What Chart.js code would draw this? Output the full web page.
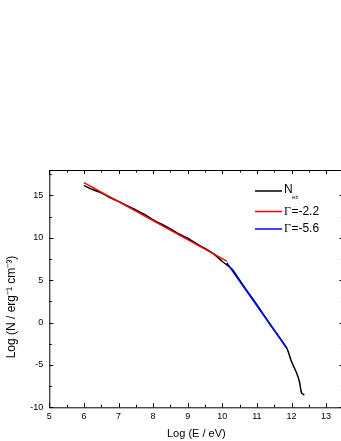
<!DOCTYPE html>
<html>
<head>
<meta charset="utf-8">
<script src="https://cdn.jsdelivr.net/npm/chart.js@4"></script>
<style>
html,body{margin:0;padding:0;background:#fff;overflow:hidden;}
#wrap{position:relative;width:345px;height:441px;}
</style>
</head>
<body>
<div id="wrap"><canvas id="c"></canvas></div>
<script>
// ---- data ----
const nE = [6.0,6.25,6.5,6.75,7.0,7.25,7.5,7.75,8.0,8.25,8.5,8.75,9.0,9.25,9.5,9.75,10.0,10.15,10.3,10.6,11.0,11.4,11.86,12.0,12.15,12.23,12.27,12.3,12.37];
const nN = [16.15,15.7,15.3,14.75,14.3,13.8,13.3,12.75,12.1,11.6,11.05,10.45,9.95,9.3,8.75,8.1,7.2,6.75,6.2,4.4,2.1,-0.3,-3.0,-4.6,-5.98,-6.98,-7.96,-8.35,-8.55];
const fit1E = [6.0,10.13];
const fit1N = [16.5,7.25];
const fit2E = [10.13,11.86];
const fit2N = [7.05,-3.0];
const seriesLabels = ['N','Γ=-2.2','Γ=-5.6'];
const xTitle = 'Log (E / eV)';
const yTitle = 'Log (N / erg⁻¹ cm⁻³)';
const xMajor = [5,6,7,8,9,10,11,12,13];
const yMajor = [-10,-5,0,5,10,15];
const xRange = [5,13.5];
const yRange = [-10,18];

const pts = (xs,ys)=>xs.map((v,i)=>({x:v,y:ys[i]}));

const frame = {
  id:'frame',
  afterDraw(chart){
    const {ctx, chartArea:{left,right,top,bottom}, scales:{x,y}} = chart;
    ctx.save();
    ctx.strokeStyle='#000'; ctx.lineWidth=1;
    ctx.strokeRect(left+0.5, top+0.5, right-left, bottom-top);
    ctx.beginPath();
    for(let v=xRange[0]; v<=xRange[1]+1e-9; v+=0.5){
      const px=Math.round(x.getPixelForValue(v))+0.5;
      const len = xMajor.includes(v)?4:2.5;
      ctx.moveTo(px,bottom); ctx.lineTo(px,bottom-len);
      ctx.moveTo(px,top); ctx.lineTo(px,top+len);
    }
    for(let v=yRange[0]; v<=yRange[1]+1e-9; v+=2.5){
      const py=Math.round(y.getPixelForValue(v))+0.5;
      const len = yMajor.includes(v)?4:2.5;
      ctx.moveTo(left,py); ctx.lineTo(left+len,py);
      ctx.moveTo(right,py); ctx.lineTo(right-len,py);
    }
    ctx.stroke();
    // legend
    const colors=['#000','#ff0000','#0000ff'];
    const ys=[191,211.5,229];
    ctx.lineWidth=1.5;
    ys.forEach((yy,i)=>{
      ctx.strokeStyle=colors[i];
      ctx.beginPath(); ctx.moveTo(255,yy); ctx.lineTo(282,yy); ctx.stroke();
    });
    ctx.fillStyle='#000';
    ctx.textBaseline='middle';
    ctx.textAlign='left';
    ctx.font='12px "Liberation Sans", Arial, sans-serif';
    ctx.fillText('N',284,190);
    ctx.font='6px "Liberation Sans", Arial, sans-serif';
    ctx.fillText('e±',292,197.5);
    for(let i=1;i<3;i++){
      const lab=seriesLabels[i];
      ctx.font='12px "Liberation Serif", serif';
      ctx.fillText(lab[0],284,ys[i]);
      const w=ctx.measureText(lab[0]).width;
      ctx.font='12px "Liberation Sans", Arial, sans-serif';
      ctx.fillText(lab.slice(1),284+w+0.5,ys[i]);
    }
    ctx.restore();
  }
};

new Chart(document.getElementById('c'),{
  type:'line',
  data:{datasets:[
    {label:seriesLabels[0],data:pts(nE,nN),borderColor:'#000',borderWidth:1.5,pointRadius:0,tension:0.2,order:2},
    {label:seriesLabels[1],data:pts(fit1E,fit1N),borderColor:'#ff0000',borderWidth:1.5,pointRadius:0,order:1},
    {label:seriesLabels[2],data:pts(fit2E,fit2N),borderColor:'#0000ff',borderWidth:1.5,pointRadius:0,order:0}
  ]},
  options:{
    responsive:true,maintainAspectRatio:false,animation:false,
    layout:{padding:{top:170,right:1.6,left:0,bottom:0}},
    plugins:{legend:{display:false},tooltip:{enabled:false}},
    scales:{
      x:{type:'linear',min:xRange[0],max:xRange[1],
        afterFit:s=>{s.height=33.7;},
        grid:{display:false,drawTicks:false},border:{display:false},
        ticks:{stepSize:1,includeBounds:false,padding:4,color:'#000',font:{family:'"Liberation Sans", Arial, sans-serif',size:9}},
        title:{display:true,text:xTitle,color:'#000',padding:{top:0.4,bottom:0},font:{family:'"Liberation Sans", Arial, sans-serif',size:11}}
      },
      y:{type:'linear',min:yRange[0],max:yRange[1],
        afterFit:s=>{s.width=49.3;},
        grid:{display:false,drawTicks:false},border:{display:false},
        ticks:{stepSize:5,includeBounds:false,padding:6,color:'#000',font:{family:'"Liberation Sans", Arial, sans-serif',size:9}},
        title:{display:true,text:yTitle+'\u00a0'.repeat(11),color:'#000',padding:{top:4.8,bottom:0},font:{family:'"Liberation Sans", Arial, sans-serif',size:12}}
      }
    }
  },
  plugins:[frame]
});
</script>
</body>
</html>
